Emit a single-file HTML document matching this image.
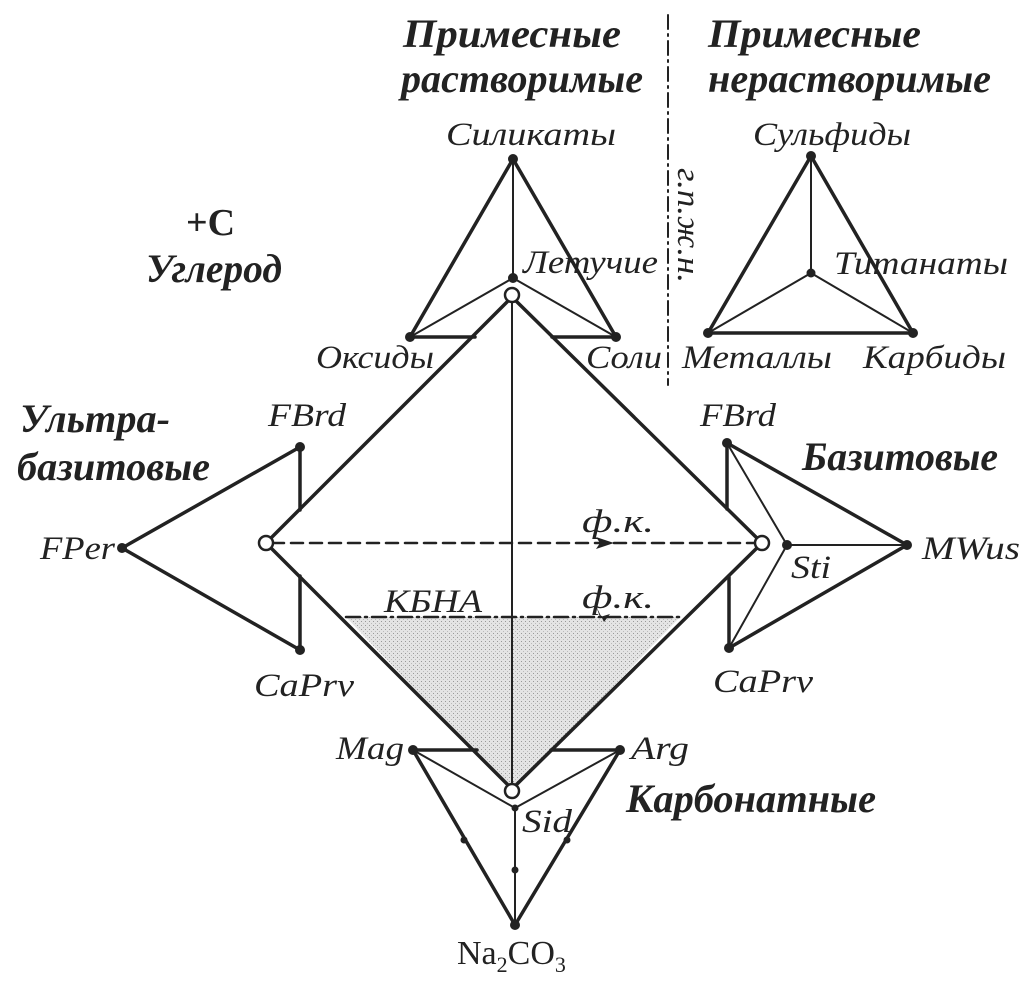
<!DOCTYPE html>
<html><head><meta charset="utf-8"><style>
html,body{margin:0;padding:0;background:#fff;}
svg{display:block}
.l{font-family:"Liberation Serif",serif;font-style:italic;font-size:33px;fill:#222}
.b{font-family:"Liberation Serif",serif;font-style:italic;font-weight:bold;font-size:40px;fill:#222}
</style></head><body>
<svg width="1031" height="992" viewBox="0 0 1031 992" xmlns="http://www.w3.org/2000/svg">
<defs>
<pattern id="dots" width="4" height="4" patternUnits="userSpaceOnUse">
<rect width="4" height="4" fill="#e4e4e4"/><rect x="1" y="1" width="1" height="1" fill="#999"/><rect x="3" y="3" width="1" height="1" fill="#bbb"/>
</pattern>
</defs>
<g stroke="#222" fill="none" stroke-linecap="round">
<polygon points="346,617 680,617 512,791" fill="url(#dots)" stroke="none"/>
<polygon points="512,297 762,543 512,789 266,543" stroke-width="3.5"/>
<line x1="512" y1="300" x2="512" y2="786" stroke-width="2"/>
<line x1="513" y1="159" x2="410" y2="337" stroke-width="3.5"/>
<line x1="513" y1="159" x2="616" y2="337" stroke-width="3.5"/>
<line x1="513" y1="159" x2="513" y2="278" stroke-width="2"/>
<line x1="513" y1="278" x2="410" y2="337" stroke-width="2"/>
<line x1="513" y1="278" x2="616" y2="337" stroke-width="2"/>
<line x1="410" y1="337" x2="475" y2="337" stroke-width="3.5"/>
<line x1="552" y1="337" x2="616" y2="337" stroke-width="3.5"/>
<polygon points="811,156 913,333 708,333" stroke-width="3.5"/>
<line x1="811" y1="156" x2="811" y2="273" stroke-width="2"/>
<line x1="811" y1="273" x2="708" y2="333" stroke-width="2"/>
<line x1="811" y1="273" x2="913" y2="333" stroke-width="2"/>
<line x1="668" y1="15" x2="668" y2="385" stroke-width="2" stroke-dasharray="14,5,2,5"/>
<line x1="122" y1="548" x2="300" y2="447" stroke-width="3.5"/>
<line x1="122" y1="548" x2="300" y2="650" stroke-width="3.5"/>
<line x1="300" y1="447" x2="300" y2="510" stroke-width="3.5"/>
<line x1="300" y1="576" x2="300" y2="650" stroke-width="3.5"/>
<line x1="727" y1="443" x2="907" y2="545" stroke-width="3.5"/>
<line x1="729" y1="648" x2="907" y2="545" stroke-width="3.5"/>
<line x1="727" y1="443" x2="727" y2="509" stroke-width="3.5"/>
<line x1="729" y1="577" x2="729" y2="648" stroke-width="3.5"/>
<line x1="727" y1="443" x2="787" y2="545" stroke-width="2"/>
<line x1="729" y1="648" x2="787" y2="545" stroke-width="2"/>
<line x1="787" y1="545" x2="907" y2="545" stroke-width="2"/>
<line x1="413" y1="750" x2="515" y2="925" stroke-width="3.5"/>
<line x1="620" y1="750" x2="515" y2="925" stroke-width="3.5"/>
<line x1="413" y1="750" x2="477" y2="750" stroke-width="3.5"/>
<line x1="551" y1="750" x2="620" y2="750" stroke-width="3.5"/>
<line x1="413" y1="750" x2="515" y2="808" stroke-width="2"/>
<line x1="620" y1="750" x2="515" y2="808" stroke-width="2"/>
<line x1="515" y1="808" x2="515" y2="925" stroke-width="2"/>
<line x1="272" y1="543" x2="756" y2="543" stroke-width="2.5" stroke-dasharray="12,7"/>
<line x1="346" y1="617" x2="680" y2="617" stroke-width="2.5" stroke-dasharray="14,5,2,5"/>
</g>
<polygon points="614,543 596,537 600,543 596,549" fill="#222"/>
<polygon points="604,622 596,606 600,617 610,614" fill="#222"/>
<g fill="#222">
<circle cx="513" cy="159" r="5"/><circle cx="513" cy="278" r="5"/><circle cx="410" cy="337" r="5"/><circle cx="616" cy="337" r="5"/>
<circle cx="811" cy="156" r="5"/><circle cx="811" cy="273" r="4.5"/><circle cx="708" cy="333" r="5"/><circle cx="913" cy="333" r="5"/>
<circle cx="122" cy="548" r="5"/><circle cx="300" cy="447" r="5"/><circle cx="300" cy="650" r="5"/>
<circle cx="727" cy="443" r="5"/><circle cx="729" cy="648" r="5"/><circle cx="907" cy="545" r="5"/><circle cx="787" cy="545" r="5"/>
<circle cx="413" cy="750" r="5"/><circle cx="620" cy="750" r="5"/><circle cx="515" cy="808" r="3.5"/><circle cx="515" cy="925" r="5"/>
<circle cx="464" cy="840" r="3.5"/><circle cx="567" cy="840" r="3.5"/><circle cx="515" cy="870" r="3.5"/>
</g>
<g fill="#fff" stroke="#222" stroke-width="2.5">
<circle cx="512" cy="295" r="7"/><circle cx="266" cy="543" r="7"/><circle cx="762" cy="543" r="7"/><circle cx="512" cy="791" r="7"/>
</g>
<text class="b" x="403" y="47" textLength="218" lengthAdjust="spacingAndGlyphs">Примесные</text>
<text class="b" x="401" y="92" textLength="242" lengthAdjust="spacingAndGlyphs">растворимые</text>
<text class="b" x="708" y="47" textLength="213" lengthAdjust="spacingAndGlyphs">Примесные</text>
<text class="b" x="708" y="92" textLength="283" lengthAdjust="spacingAndGlyphs">нерастворимые</text>
<text x="186" y="235" style="font-family:'Liberation Serif',serif;font-weight:bold;font-size:38px;fill:#222">+C</text>
<text class="b" x="146" y="282" textLength="136" lengthAdjust="spacingAndGlyphs">Углерод</text>
<text class="b" x="20" y="432" textLength="150" lengthAdjust="spacingAndGlyphs">Ультра-</text>
<text class="b" x="17" y="480" textLength="193" lengthAdjust="spacingAndGlyphs">базитовые</text>
<text class="b" x="802" y="470" textLength="196" lengthAdjust="spacingAndGlyphs">Базитовые</text>
<text class="b" x="626" y="812" textLength="250" lengthAdjust="spacingAndGlyphs">Карбонатные</text>
<text class="l" x="446" y="145" textLength="170" lengthAdjust="spacingAndGlyphs">Силикаты</text>
<text class="l" x="523" y="273" textLength="135" lengthAdjust="spacingAndGlyphs">Летучие</text>
<text class="l" x="316" y="368" textLength="118" lengthAdjust="spacingAndGlyphs">Оксиды</text>
<text class="l" x="586" y="368" textLength="76" lengthAdjust="spacingAndGlyphs">Соли</text>
<text class="l" x="753" y="145" textLength="158" lengthAdjust="spacingAndGlyphs">Сульфиды</text>
<text class="l" x="834" y="274" textLength="174" lengthAdjust="spacingAndGlyphs">Титанаты</text>
<text class="l" x="682" y="368" textLength="150" lengthAdjust="spacingAndGlyphs">Металлы</text>
<text class="l" x="863" y="368" textLength="143" lengthAdjust="spacingAndGlyphs">Карбиды</text>
<text class="l" transform="translate(678,168) rotate(90)" textLength="115" lengthAdjust="spacingAndGlyphs">г.п.ж.н.</text>
<text class="l" x="268" y="426" textLength="78" lengthAdjust="spacingAndGlyphs">FBrd</text>
<text class="l" x="40" y="559" textLength="75" lengthAdjust="spacingAndGlyphs">FPer</text>
<text class="l" x="254" y="696" textLength="100" lengthAdjust="spacingAndGlyphs">CaPrv</text>
<text class="l" x="700" y="426" textLength="76" lengthAdjust="spacingAndGlyphs">FBrd</text>
<text class="l" x="922" y="559" textLength="98" lengthAdjust="spacingAndGlyphs">MWus</text>
<text class="l" x="791" y="578" textLength="40" lengthAdjust="spacingAndGlyphs">Sti</text>
<text class="l" x="713" y="692" textLength="100" lengthAdjust="spacingAndGlyphs">CaPrv</text>
<text class="l" x="582" y="532" textLength="72" lengthAdjust="spacingAndGlyphs">ф.к.</text>
<text class="l" x="582" y="608" textLength="72" lengthAdjust="spacingAndGlyphs">ф.к.</text>
<text class="l" x="384" y="612" textLength="98" lengthAdjust="spacingAndGlyphs">КБНА</text>
<text class="l" x="336" y="759" textLength="68" lengthAdjust="spacingAndGlyphs">Mag</text>
<text class="l" x="631" y="759" textLength="58" lengthAdjust="spacingAndGlyphs">Arg</text>
<text class="l" x="522" y="832" textLength="50" lengthAdjust="spacingAndGlyphs">Sid</text>
<text x="457" y="964" style="font-family:'Liberation Serif',serif;font-size:34px;fill:#222">Na<tspan font-size="22" dy="8">2</tspan><tspan dy="-8">CO</tspan><tspan font-size="22" dy="8">3</tspan></text>
</svg>
</body></html>
